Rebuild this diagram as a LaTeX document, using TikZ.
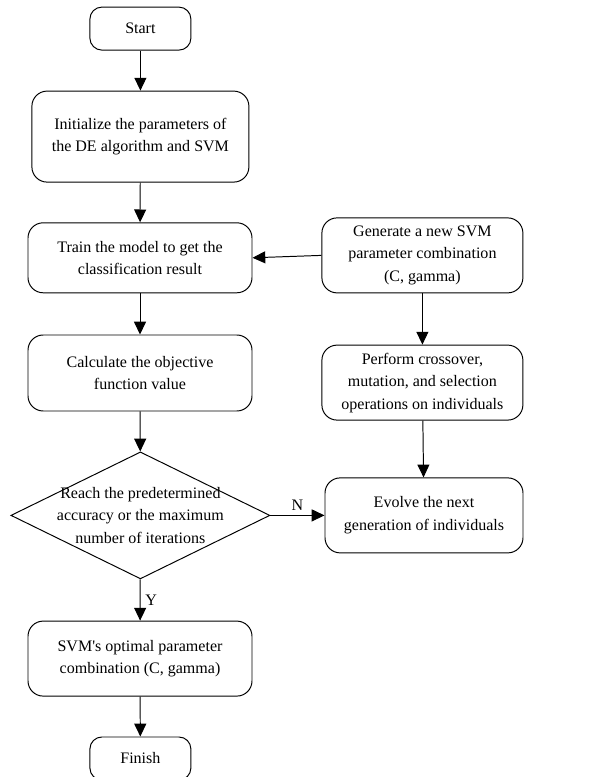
\documentclass[tikz,border=0pt]{standalone}
\usepackage{fontspec}
\setmainfont{Liberation Serif}
\usetikzlibrary{shapes,arrows.meta,positioning}

\begin{document}
\begin{tikzpicture}[
    every node/.style={font=\fontsize{11.4}{16}\selectfont},
    terminal/.style={rectangle, draw, rounded corners=0.3cm, minimum width=2.525cm, minimum height=1.075cm, align=center},
    process/.style={rectangle, draw, rounded corners=0.38cm, minimum width=5.6cm, minimum height=1.875cm, align=center},
    sideproc/.style={rectangle, draw, rounded corners=0.38cm, minimum width=5.025cm, minimum height=1.875cm, align=center},
    decision/.style={diamond, draw, inner sep=0pt, minimum width=6.475cm, minimum height=3.175cm},
    arrow/.style={line width=0.7pt,->,>={Triangle[length=3.2mm,width=3mm]}},
    line width=0.7pt
]
\useasboundingbox (0,0) rectangle (15.125,19.425);

% Main column
\node[terminal] (start) at (3.51, 18.71) {Start};
\node[process, minimum width=5.425cm, minimum height=2.275cm] (init) at (3.51, 16.01) {Initialize the parameters of\\the DE algorithm and SVM};
\node[process, minimum height=1.75cm] (train) at (3.5, 12.98) {Train the model to get the\\classification result};
\node[process, minimum height=1.9cm] (calc) at (3.5, 10.1) {Calculate the objective\\function value};
\node[decision, label={[align=center, font=\fontsize{11.4}{16}\selectfont]center:Reach the predetermined\\accuracy or the maximum\\number of iterations}] (check) at (3.51, 6.54) {};
\node[process] (best) at (3.5, 2.96) {SVM\textquotesingle s optimal parameter\\combination (C, gamma)};
\node[terminal] (finish) at (3.51, 0.4625) {Finish};

% DE loop
\node[sideproc] (newpar) at (10.56, 13.04) {Generate a new SVM\\parameter combination\\(C, gamma)};
\node[sideproc] (operate) at (10.56, 9.86) {Perform crossover,\\mutation, and selection\\operations on individuals};
\node[sideproc, minimum width=4.95cm] (evolve) at (10.6, 6.54) {Evolve the next\\generation of individuals};

% Connections
\draw[arrow] (start) -- (init);
\draw[arrow] (init) -- (train);
\draw[arrow] (train) -- (calc);
\draw[arrow] (calc) -- (check);
\draw[arrow] (check) -- node[right] {Y} (best);
\draw[arrow] (best) -- (finish);
\draw[arrow] (check.east) -- node[above] {N} (evolve.west);
\draw[arrow] (newpar.west) -- (train.east);
\draw[arrow] (newpar) -- (operate);
\draw[arrow] (operate) -- (evolve);

\end{tikzpicture}
\end{document}
